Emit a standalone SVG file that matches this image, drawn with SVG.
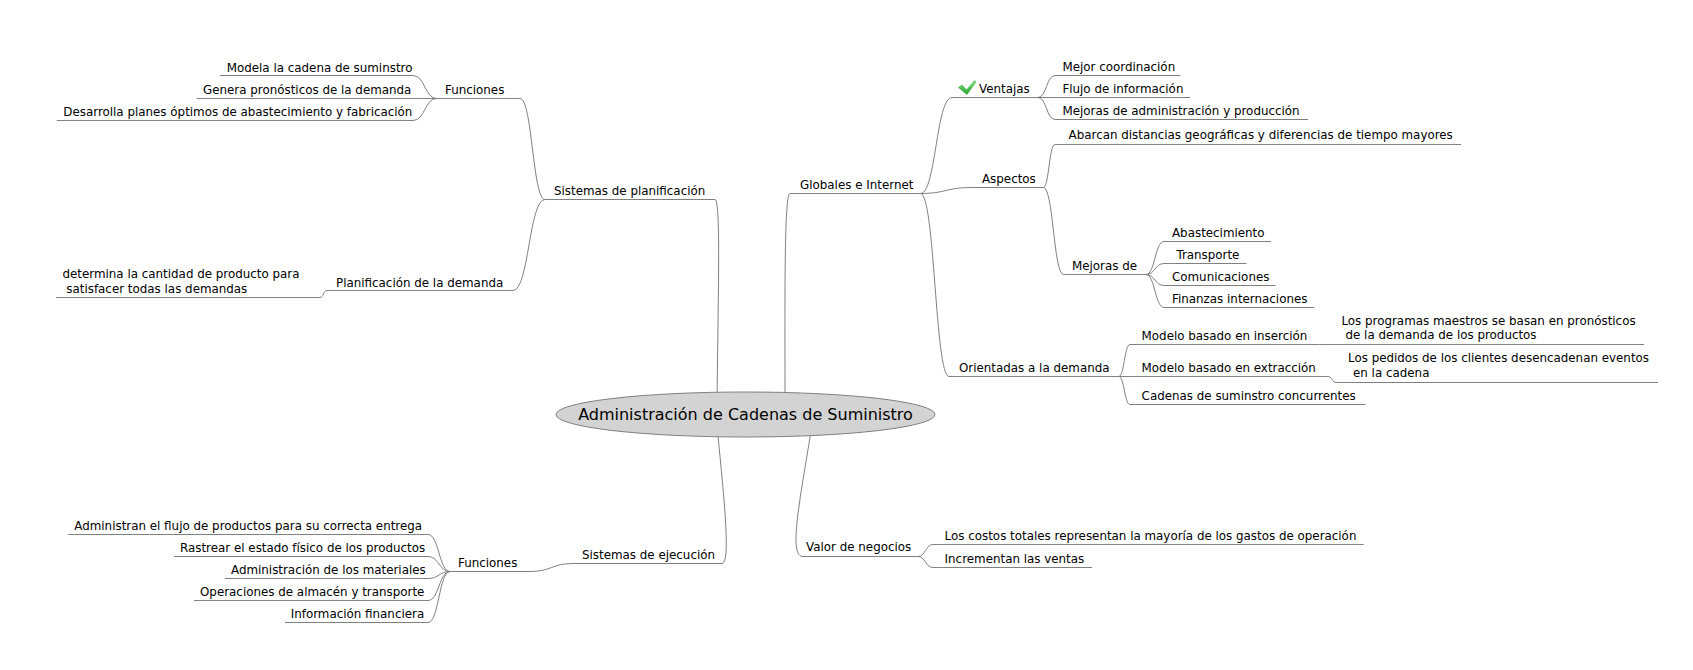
<svg xmlns="http://www.w3.org/2000/svg" width="1693" height="670" viewBox="0 0 1693 670">
<defs>
<style>
text{font-family:"DejaVu Sans","Liberation Sans",sans-serif;font-size:11.88px;fill:#000}
.ul,.e{stroke:#808080;stroke-width:1;fill:none}
.root text{font-size:16px}
</style>
<linearGradient id="gck" x1="0" y1="0" x2="0" y2="1">
<stop offset="0" stop-color="#8ee88e"/>
<stop offset="1" stop-color="#1fa51f"/>
</linearGradient>
</defs>
<rect width="1693" height="670" fill="#fff"/>
<g id="connectors">
<path class="e" d="M436.7,98.5 C424.9,98.5 424.9,75.5 413,75.5"/>
<path class="e" d="M436.7,98.5 L413,98.5"/>
<path class="e" d="M436.7,98.5 C424.9,98.5 424.9,120.5 413,120.5"/>
<path class="e" d="M545,199.5 C532.5,199.5 532.5,98.5 520,98.5"/>
<path class="e" d="M545,199.5 C529,199.5 529,290.5 513,290.5"/>
<path class="e" d="M327,290.5 C323.5,290.5 323.5,297.5 320,297.5"/>
<path class="e" d="M715,199.5 C721,199.5 718,300 717,405"/>
<path class="e" d="M790,193.5 C784,193.5 785,300 785,405"/>
<path class="e" d="M717,425 C722,480 732,563.5 722,563.5"/>
<path class="e" d="M812,425 C800,500 788,556.5 803,556.5"/>
<path class="e" d="M573,563.5 C551.5,563.5 551.5,571.5 530,571.5"/>
<path class="e" d="M450,571.5 C439,571.5 439,534.5 428,534.5"/>
<path class="e" d="M450,571.5 C439,571.5 439,556.5 428,556.5"/>
<path class="e" d="M450,571.5 C439,571.5 439,578.5 428,578.5"/>
<path class="e" d="M450,571.5 C439,571.5 439,600.5 428,600.5"/>
<path class="e" d="M450,571.5 C439,571.5 439,622.5 428,622.5"/>
<path class="e" d="M920.5,193.5 C936,193.5 936,97.5 952,97.5"/>
<path class="e" d="M920.5,193.5 C946,193.5 946,187.5 972,187.5"/>
<path class="e" d="M920.5,193.5 C935,193.5 935,376.5 949,376.5"/>
<path class="e" d="M1038,97.5 C1046.5,97.5 1046.5,75.5 1055,75.5"/>
<path class="e" d="M1038,97.5 L1055,97.5"/>
<path class="e" d="M1038,97.5 C1046.5,97.5 1046.5,119.5 1055,119.5"/>
<path class="e" d="M1043.4,187.5 C1049,187.5 1049,144.5 1055,144.5"/>
<path class="e" d="M1043.4,187.5 C1053.5,187.5 1053.5,274.5 1063.5,274.5"/>
<path class="e" d="M1146,274.5 C1155,274.5 1155,241.5 1164,241.5"/>
<path class="e" d="M1146,274.5 C1155,274.5 1155,263.5 1164,263.5"/>
<path class="e" d="M1146,274.5 C1155,274.5 1155,285.5 1164,285.5"/>
<path class="e" d="M1146,274.5 C1155,274.5 1155,307.5 1164,307.5"/>
<path class="e" d="M1118.7,376.5 C1124.4,376.5 1124.4,344.5 1130,344.5"/>
<path class="e" d="M1118.7,376.5 L1130,376.5"/>
<path class="e" d="M1118.7,376.5 C1124.4,376.5 1124.4,404.5 1130,404.5"/>
<path class="e" d="M1319.6,344.5 L1322.5,344.5"/>
<path class="e" d="M1328,376.5 C1332,376.5 1332,382.5 1336,382.5"/>
<path class="e" d="M918,556.5 C925.5,556.5 925.5,544.5 933,544.5"/>
<path class="e" d="M918,556.5 C925.5,556.5 925.5,567.5 933,567.5"/>
</g>
<g id="root" class="root">
<ellipse cx="745.5" cy="414.5" rx="189.5" ry="22.5" fill="#d3d3d3" stroke="#808080" stroke-width="1"/>
<text x="745.5" y="420" text-anchor="middle">Administración de Cadenas de Suministro</text>
</g>
<g id="sis-plan"><text x="554" y="195">Sistemas de planificación</text><path class="ul" d="M545,199.5 H715"/></g>
<g id="funciones1"><text x="445" y="94">Funciones</text><path class="ul" d="M436.7,98.5 H520"/></g>
<g id="modela"><text x="226.7" y="71.5">Modela la cadena de suminstro</text><path class="ul" d="M220,75.5 H413"/></g>
<g id="genera"><text x="203" y="94">Genera pronósticos de la demanda</text><path class="ul" d="M196.7,98.5 H413"/></g>
<g id="desarrolla"><text x="63.3" y="116">Desarrolla planes óptimos de abastecimiento y fabricación</text><path class="ul" d="M56.7,120.5 H413"/></g>
<g id="plan-demanda"><text x="336" y="286.5">Planificación de la demanda</text><path class="ul" d="M327,290.5 H513"/></g>
<g id="determina"><text x="62.5" y="278.3">determina la cantidad de producto para</text><text x="66.3" y="292.5">satisfacer todas las demandas</text><path class="ul" d="M56,297.5 H320"/></g>
<g id="sis-ejec"><text x="582" y="558.5">Sistemas de ejecución</text><path class="ul" d="M573,563.5 H723"/></g>
<g id="funciones2"><text x="458" y="567">Funciones</text><path class="ul" d="M450,571.5 H530"/></g>
<g id="administran"><text x="74.3" y="529.5">Administran el flujo de productos para su correcta entrega</text><path class="ul" d="M68.3,534.5 H428"/></g>
<g id="rastrear"><text x="180" y="551.5">Rastrear el estado físico de los productos</text><path class="ul" d="M174,556.5 H428"/></g>
<g id="materiales"><text x="231" y="573.5">Administración de los materiales</text><path class="ul" d="M225,578.5 H428"/></g>
<g id="operaciones"><text x="200" y="595.5">Operaciones de almacén y transporte</text><path class="ul" d="M194,600.5 H428"/></g>
<g id="informacion"><text x="290.7" y="617.5">Información financiera</text><path class="ul" d="M285,622.5 H428"/></g>
<g id="globales"><text x="800" y="189.3">Globales e Internet</text><path class="ul" d="M790,193.5 H920.5"/></g>
<g id="ventajas"><path d="M958.5,87.5 L962,85 L966.5,90 L974.5,80.5 L976,82 L967,94.5 Z" fill="url(#gck)" stroke="#2a9a2a" stroke-width="0.5"/><text x="979" y="93">Ventajas</text><path class="ul" d="M952,97.5 H1038"/></g>
<g id="mejor-coord"><text x="1062.4" y="71">Mejor coordinación</text><path class="ul" d="M1055,75.5 H1180.5"/></g>
<g id="flujo"><text x="1062.4" y="93">Flujo de información</text><path class="ul" d="M1055,97.5 H1190"/></g>
<g id="mejoras-adm"><text x="1062.4" y="115">Mejoras de administración y producción</text><path class="ul" d="M1055,119.5 H1308"/></g>
<g id="aspectos"><text x="982" y="183">Aspectos</text><path class="ul" d="M972,187.5 H1043.4"/></g>
<g id="abarcan"><text x="1068.6" y="139">Abarcan distancias geográficas y diferencias de tiempo mayores</text><path class="ul" d="M1055,144.5 H1461"/></g>
<g id="mejoras-de"><text x="1072" y="270">Mejoras de</text><path class="ul" d="M1063.5,274.5 H1146"/></g>
<g id="abastecimiento"><text x="1172" y="237">Abastecimiento</text><path class="ul" d="M1164,241.5 H1271"/></g>
<g id="transporte"><text x="1176.4" y="259">Transporte</text><path class="ul" d="M1164,263.5 H1246.5"/></g>
<g id="comunicaciones"><text x="1172" y="281">Comunicaciones</text><path class="ul" d="M1164,285.5 H1275.5"/></g>
<g id="finanzas"><text x="1172" y="303">Finanzas internaciones</text><path class="ul" d="M1164,307.5 H1314.4"/></g>
<g id="orientadas"><text x="959" y="372">Orientadas a la demanda</text><path class="ul" d="M949,376.5 H1118.7"/></g>
<g id="insercion"><text x="1141.6" y="340">Modelo basado en inserción</text><path class="ul" d="M1130,344.5 H1319.6"/></g>
<g id="programas"><text x="1341.4" y="325.2">Los programas maestros se basan en pronósticos</text><text x="1345.5" y="339.2">de la demanda de los productos</text><path class="ul" d="M1322.5,344.5 H1644"/></g>
<g id="extraccion"><text x="1141.6" y="372">Modelo basado en extracción</text><path class="ul" d="M1130,376.5 H1328"/></g>
<g id="pedidos"><text x="1348" y="362">Los pedidos de los clientes desencadenan eventos</text><text x="1353" y="376.5">en la cadena</text><path class="ul" d="M1336,382.5 H1658"/></g>
<g id="concurrentes"><text x="1141.6" y="399.5">Cadenas de suminstro concurrentes</text><path class="ul" d="M1130,404.5 H1365.5"/></g>
<g id="valor"><text x="806" y="551">Valor de negocios</text><path class="ul" d="M803,556.5 H918"/></g>
<g id="costos"><text x="944.6" y="540">Los costos totales representan la mayoría de los gastos de operación</text><path class="ul" d="M933,544.5 H1363.6"/></g>
<g id="incrementan"><text x="944.6" y="562.5">Incrementan las ventas</text><path class="ul" d="M933,567.5 H1092"/></g>
</svg>
